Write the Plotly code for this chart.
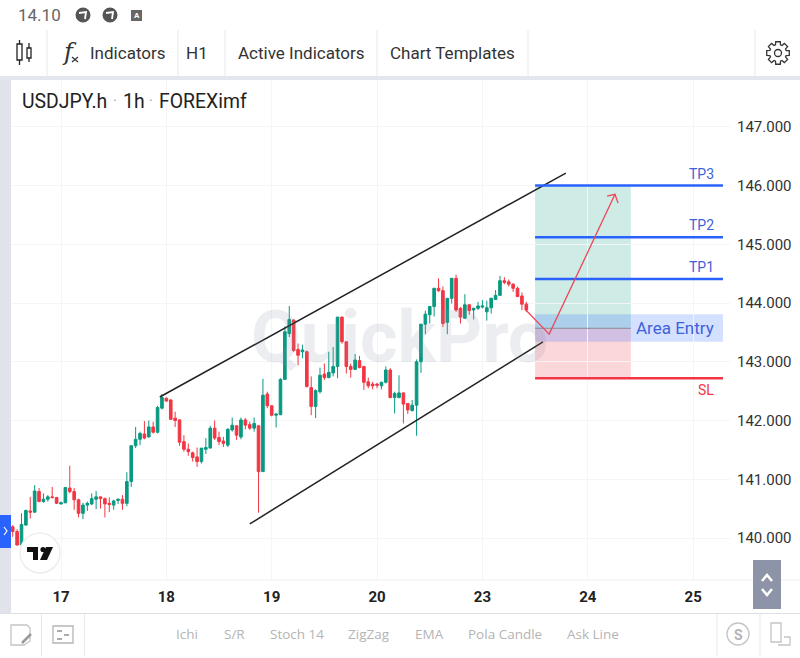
import math
import plotly.graph_objects as go

# ---------- data ----------
first_bar = -11
opens = [140.19,140.11,139.88,140.22,140.46,140.44,140.79,140.62,140.66,140.70,140.69,
 140.58,140.60,140.85,140.79,140.65,140.42,140.56,140.58,140.66,140.70,
 140.67,140.59,140.56,140.64,140.66,140.59,140.96,141.57,141.68,141.77,
 141.72,141.89,141.80,142.21,142.38,142.35,142.04,142.01,141.64,141.51,
 141.45,141.38,141.30,141.51,141.53,141.87,141.71,141.65,141.58,141.84,
 141.91,141.72,142.01,141.93,141.87,141.91,141.13,142.45,142.25,142.09,
 142.10,142.70,143.48,143.71,143.21,143.17,143.17,142.56,142.24,142.49,
 142.79,142.73,142.81,142.92,143.76,143.34,142.92,142.87,143.02,142.92,
 142.66,142.62,142.62,142.59,142.65,142.86,142.39,142.39,142.47,142.29,
 142.17,142.26,143.00,143.64,143.80,143.94,144.25,144.21,143.67,144.08,
 144.42,143.91,143.74,143.97,143.88,143.91,143.93,143.85,143.92,144.06,
 144.13,144.38,144.36,144.32,144.25,144.12,143.98]
highs = [140.22,140.15,140.42,140.48,140.70,140.90,140.85,140.76,140.73,140.87,140.70,
 140.62,140.86,141.23,140.85,140.67,140.60,140.62,140.76,140.80,140.70,
 140.69,140.69,140.65,140.67,140.73,141.12,141.58,141.89,141.81,141.99,
 142.00,141.98,142.25,142.45,142.39,142.36,142.15,142.02,141.75,141.61,
 141.47,141.54,141.53,141.70,141.91,142.00,141.81,141.72,141.87,142.05,
 141.92,142.05,142.04,141.98,142.05,141.92,142.71,142.49,142.26,142.12,
 142.72,143.60,143.95,143.72,143.31,143.29,143.19,142.75,142.53,142.90,
 142.97,143.17,143.25,143.76,143.77,143.34,142.97,143.13,143.10,142.92,
 142.73,142.66,142.64,142.66,142.92,142.89,142.49,142.77,142.48,142.29,
 142.35,143.04,143.64,143.87,143.94,144.26,144.42,144.28,144.08,144.42,
 144.48,143.93,144.15,143.98,143.92,144.02,144.05,144.04,144.09,144.22,
 144.46,144.44,144.40,144.34,144.28,144.18,144.02]
lows = [140.02,139.87,139.87,140.21,140.33,140.43,140.61,140.60,140.62,140.67,140.58,
 140.57,140.59,140.76,140.48,140.35,140.32,140.46,140.56,140.49,140.50,
 140.35,140.44,140.48,140.58,140.48,140.54,140.87,141.53,141.58,141.68,
 141.71,141.78,141.78,142.19,142.32,142.01,141.89,141.57,141.47,141.40,
 141.30,141.21,141.27,141.43,141.53,141.67,141.58,141.55,141.55,141.81,
 141.67,141.68,141.85,141.84,141.81,140.43,141.13,142.21,142.07,141.88,
 142.09,142.69,143.42,143.17,142.94,143.06,142.56,142.09,142.04,142.46,
 142.69,142.72,142.75,142.72,143.31,142.80,142.73,142.86,142.89,142.52,
 142.55,142.53,142.55,142.53,142.63,142.38,142.12,142.38,141.95,142.11,
 142.15,141.74,142.81,143.47,143.65,143.77,144.19,143.59,143.47,143.99,
 143.85,143.65,143.74,143.80,143.72,143.88,143.91,143.70,143.82,144.05,
 144.12,144.32,144.28,144.19,144.11,143.88,143.85]
closes = [140.11,139.88,140.23,140.47,140.44,140.80,140.62,140.66,140.70,140.69,140.59,
 140.60,140.86,140.79,140.65,140.42,140.56,140.59,140.67,140.70,140.67,
 140.58,140.57,140.63,140.66,140.59,140.96,141.57,141.68,141.78,141.70,
 141.89,141.80,142.22,142.39,142.33,142.02,142.00,141.63,141.51,141.47,
 141.37,141.30,141.53,141.54,141.87,141.70,141.64,141.61,141.85,141.92,
 141.75,142.01,141.92,141.87,141.95,141.13,142.43,142.25,142.09,142.11,
 142.70,143.51,143.72,143.19,143.11,143.20,142.58,142.24,142.51,142.77,
 142.73,142.82,142.92,143.76,143.34,142.92,142.87,143.03,142.90,142.65,
 142.59,142.59,142.60,142.65,142.86,142.39,142.46,142.47,142.28,142.18,
 142.26,143.00,143.64,143.81,143.94,144.25,144.21,143.65,144.08,144.42,
 143.88,143.76,143.97,143.87,143.91,143.95,143.95,143.92,144.08,144.13,
 144.38,144.35,144.32,144.25,144.11,143.98,143.88]
bars = list(range(first_bar, first_bar + len(opens)))

day_positions = [0, 24, 48, 72, 96, 120, 144]
day_labels = ["17", "18", "19", "20", "23", "24", "25"]
price_ticks = [140, 141, 142, 143, 144, 145, 146, 147]
price_labels = ["140.000", "141.000", "142.000", "143.000", "144.000", "145.000", "146.000", "147.000"]

upper_x, upper_y = [22.5, 115.0], [142.40, 146.21]
lower_x, lower_y = [43.0, 109.8], [140.24, 143.34]
path_x, path_y = [105.9, 111.2, 126.2], [143.88, 143.47, 145.85]
head_x, head_y = [124.4, 126.2, 126.9], [145.82, 145.85, 145.70]

level_start, box_end, level_end = 108.0, 129.8, 150.8
tp_levels = {"TP1": 144.41, "TP2": 145.12, "TP3": 146.00}
sl_level = 142.72
entry_level = 143.57
entry_top, entry_bottom = 143.81, 143.34

# ---------- pixel helpers for the app chrome ----------
L, R, T, B = 11, 730, 80, 580
X0, X1 = -11.39, 152.4
Y0, Y1 = 139.285, 147.796
def px(x): return (x - L) / (R - L)
def py(y): return 1 - (y - T) / (B - T)

shapes, notes = [], []
def rect(x0, y0, x1, y1, fill=None, line=None, w=1, layer="above"):
    shapes.append(dict(type="rect", xref="paper", yref="paper", x0=px(x0), x1=px(x1), y0=py(y0), y1=py(y1),
                       fillcolor=fill, line=dict(color=line, width=w if line else 0), layer=layer))
def seg(x0, y0, x1, y1, color, w=1):
    shapes.append(dict(type="line", xref="paper", yref="paper", x0=px(x0), x1=px(x1), y0=py(y0), y1=py(y1),
                       line=dict(color=color, width=w)))
def circ(cx, cy, r, fill=None, line=None, w=1):
    shapes.append(dict(type="circle", xref="paper", yref="paper", x0=px(cx - r), x1=px(cx + r), y0=py(cy - r), y1=py(cy + r),
                       fillcolor=fill, line=dict(color=line, width=w if line else 0)))
def poly(pts, fill=None, line=None, w=1, close=True):
    d = "M" + " L".join(f"{px(a):.5f},{py(b):.5f}" for a, b in pts) + (" Z" if close else "")
    shapes.append(dict(type="path", xref="paper", yref="paper", path=d, fillcolor=fill,
                       line=dict(color=line, width=w if line else 0)))
def text(x, y, s, size=16, color="#333", font="Roboto", anchor="left", weight=None):
    f = dict(size=size, color=color, family=font)
    if weight: f["weight"] = weight
    notes.append(dict(xref="paper", yref="paper", x=px(x), y=py(y), text=s, showarrow=False,
                      xanchor=anchor, yanchor="middle", font=f))

# panels behind the plot
rect(0, 76, 800, 80, fill="#e3e6ec", layer="below")
rect(0, 80, 11, 613, fill="#e0e3eb", layer="below")
seg(11, 580, 800, 580, "#edf0f4")
seg(0, 613.5, 800, 613.5, "#dcdfe4")

# status bar
text(16, 15, "14.10", 17, "#666")
for cx in (83, 110):
    circ(cx, 15, 7.5, fill="#555")
    poly([(cx - 4, 13), (cx + 3, 12), (cx + 2, 19)], line="#fff", w=1.8, close=False)
rect(131, 10, 142, 21, fill="#666")
text(136.5, 15.5, "A", 8, "#fff", anchor="center", weight="bold")

# top toolbar
for x in (47, 178, 225, 377, 528, 755):
    seg(x, 30, x, 76, "#e6e8ec")
rect(17, 44, 22, 60, line="#222", w=1.3)
seg(19.5, 40, 19.5, 44, "#222", 1.3); seg(19.5, 60, 19.5, 65, "#222", 1.3)
rect(27, 48, 31, 58, line="#222", w=1.3)
seg(29, 43, 29, 48, "#222", 1.3); seg(29, 58, 29, 62, "#222", 1.3)
text(60, 52, "<i>f</i>", 24, "#333", "DejaVu Serif")
seg(72, 57, 78, 62, "#333", 1.2); seg(78, 57, 72, 62, "#333", 1.2)
text(88, 53, "Indicators", 17)
text(184, 53, "H1", 17)
text(236, 53, "Active Indicators", 17)
text(388, 53, "Chart Templates", 17)

# gear icon
gear = []
for k in range(8):
    a = k * math.pi / 4
    for da, r in [(-0.30, 8.5), (-0.20, 11.5), (0.20, 11.5), (0.30, 8.5)]:
        gear.append((778 + r * math.cos(a + da), 53 + r * math.sin(a + da)))
poly(gear, line="#333", w=1.3)
circ(778, 53, 3.5, line="#333", w=1.3)

# chart title
text(20, 101, "USDJPY.h", 19.4, "#222")
text(115, 101, "·", 14, "#999", anchor="center")
text(121, 101, "1h", 19.4, "#222")
text(151, 101, "·", 14, "#999", anchor="center")
text(157, 101, "FOREXimf", 19.4, "#222")

# watermark
text(400, 337, "QuickPro", 72, "rgba(140,146,165,0.17)", "Roboto", "center", "bold")

# left handle and logo
rect(0, 515, 11, 548, fill="#2962ff")
poly([(4, 527), (7, 531), (4, 535)], line="#fff", w=1.2, close=False)
circ(40, 553, 20, fill="#fff", line="#eeeeee", w=1.5)
poly([(27, 547), (38, 547), (38, 560), (33, 560), (33, 552), (27, 552)], fill="#111")
circ(43, 549.5, 2.6, fill="#111")
poly([(46, 547), (53, 547), (47, 560), (40, 560)], fill="#111")

# scroll button
rect(753, 560, 781, 609, fill="#8e94a8")
poly([(762, 581), (767, 575), (772, 581)], line="#fff", w=2.5, close=False)
poly([(762, 589), (767, 595), (772, 589)], line="#fff", w=2.5, close=False)

# bottom toolbar
for x in (41.5, 84.5, 717, 760):
    seg(x, 614, x, 656, "#e6e8ec")
for x, s in [(187, "Ichi"), (234, "S/R"), (297, "Stoch 14"), (369, "ZigZag"), (429, "EMA"), (505, "Pola Candle"), (593, "Ask Line")]:
    text(x, 634, s, 13.5, "#b4b4b4", "Open Sans", "center")
poly([(11, 625), (27, 625), (30, 628), (30, 641), (24, 645), (11, 645)], line="#c4c4c4", w=1.3)
poly([(22, 643), (31, 634)], line="#999", w=2.5, close=False)
rect(53, 626, 73, 643, line="#b5b5b5", w=1.3)
for yy, a, b in [(631, 57, 62), (635, 64, 69), (639, 57, 62)]:
    seg(a, yy, b, yy, "#999", 1.6)
circ(738, 634, 11, line="#c4c4c4", w=1.3)
text(738, 634.5, "S", 14, "#b4b4b4", anchor="center", weight="bold")
rect(771, 623, 781, 642, line="#c4c4c4", w=1.3)
poly([(784, 637), (790, 637), (790, 645), (778, 645)], line="#c4c4c4", w=1.3, close=False)

# position boxes and levels, in data coordinates
def drect(x0, x1, y0, y1, fill):
    shapes.append(dict(type="rect", xref="x", yref="y", x0=x0, x1=x1, y0=y0, y1=y1,
                       fillcolor=fill, line=dict(width=0), layer="below"))
drect(level_start, box_end, entry_level, tp_levels["TP3"], "rgba(8,153,129,0.20)")
drect(level_start, box_end, sl_level, entry_level, "rgba(242,54,69,0.20)")
drect(level_start, level_end, entry_bottom, entry_top, "rgba(41,98,255,0.20)")

fig = go.Figure()
fig.add_trace(go.Candlestick(
    x=bars, open=opens, high=highs, low=lows, close=closes,
    increasing=dict(line=dict(color="#089981", width=1), fillcolor="#089981"),
    decreasing=dict(line=dict(color="#F23645", width=1), fillcolor="#F23645"),
    whiskerwidth=0, showlegend=False, hoverinfo="skip"))
def line(xs, ys, color, w):
    fig.add_trace(go.Scatter(x=xs, y=ys, mode="lines", line=dict(color=color, width=w), showlegend=False, hoverinfo="skip"))
line(upper_x, upper_y, "#222", 1.5)
line(lower_x, lower_y, "#222", 1.5)
line([level_start, box_end], [entry_level, entry_level], "#8a8a90", 1)
for name, lv in tp_levels.items():
    line([level_start, level_end], [lv, lv], "#2962ff", 2.5)
    notes.append(dict(xref="x", yref="y", x=level_end - 1.5, y=lv, yshift=12, text=name, showarrow=False,
                      xanchor="right", yanchor="middle", font=dict(size=14, color="#3f62d8", family="Roboto")))
line([level_start, level_end], [sl_level, sl_level], "#F23645", 2.5)
notes.append(dict(xref="x", yref="y", x=level_end - 1.5, y=sl_level, yshift=-12, text="SL", showarrow=False,
                  xanchor="right", yanchor="middle", font=dict(size=14, color="#F23645", family="Roboto")))
notes.append(dict(xref="x", yref="y", x=level_end - 1.5, y=entry_level, text="Area Entry", showarrow=False,
                  xanchor="right", yanchor="middle", font=dict(size=17, color="#3f62d8", family="Roboto")))
line(path_x, path_y, "#F0465A", 1.3)
line(head_x, head_y, "#F0465A", 1.3)

fig.update_layout(
    width=800, height=658, margin=dict(l=L, r=800 - R, t=T, b=658 - B, autoexpand=False),
    paper_bgcolor="#ffffff", plot_bgcolor="#ffffff", showlegend=False,
    shapes=shapes, annotations=notes, boxgap=0.15,
    xaxis=dict(range=[X0, X1], tickmode="array", tickvals=day_positions, ticktext=day_labels,
               rangeslider=dict(visible=False), showgrid=True, gridcolor="#f4f5f7", gridwidth=1, automargin=False,
               zeroline=False, showline=False, ticks="outside", ticklen=3, tickcolor="rgba(0,0,0,0)",
               tickfont=dict(family="Roboto", size=15, color="#222", weight="bold")),
    yaxis=dict(range=[Y0, Y1], side="right", tickmode="array", tickvals=price_ticks, ticktext=price_labels,
               showgrid=True, gridcolor="#f4f5f7", gridwidth=1, zeroline=False, showline=False, automargin=False,
               ticks="outside", ticklen=3, tickcolor="rgba(0,0,0,0)",
               tickfont=dict(family="Roboto", size=15, color="#333")),
)
fig.write_html("out.html", config=dict(displayModeBar=False),
               post_script="document.body.style.margin='0';document.body.style.overflow='hidden';")
